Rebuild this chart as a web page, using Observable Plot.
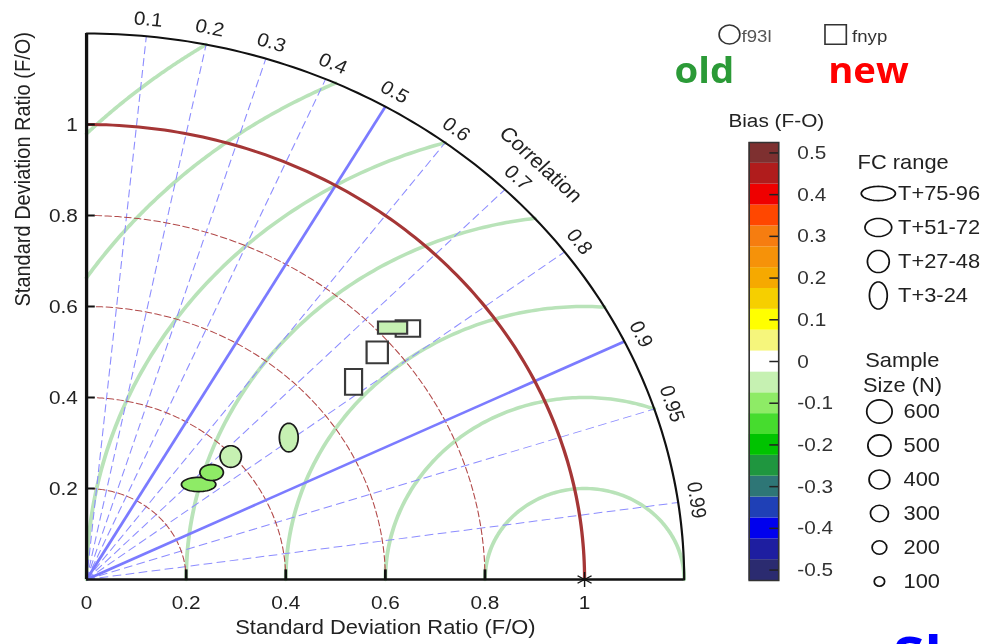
<!DOCTYPE html>
<html>
<head>
<meta charset="utf-8">
<script src="https://cdn.jsdelivr.net/npm/d3@7"></script>
<script src="https://cdn.jsdelivr.net/npm/@observablehq/plot@0.6"></script>
<style>
  html, body { margin: 0; padding: 0; background: #fff; }
  #page { width: 996px; height: 644px; overflow: hidden; position: relative; background: #fff; }
  #fig { position: absolute; left: 0; top: 0; width: 910px; height: 644px;
         transform: scaleX(1.0945); transform-origin: 0 0;
         font-family: "Liberation Sans", Arial, Helvetica, sans-serif; }
  #fig > * { position: absolute; }
  .tag { font-family: "Open Sans", sans-serif; font-weight: 700; line-height: 1; white-space: nowrap; }
</style>
</head>
<body>
<div id="page"><div id="fig"></div></div>
<script>
// ---------------------------------------------------------------------------
// Taylor diagram: f93l (old) versus fnyp (new), by forecast range
// ---------------------------------------------------------------------------

const fcRanges = ["T+3-24", "T+27-48", "T+51-72", "T+75-96"];

// f93l ("old"): standard deviation ratio, correlation, bias, sample size
const oldSdRatio = [0.512, 0.396, 0.344, 0.307];
const oldCorr    = [0.793, 0.731, 0.730, 0.733];
const oldBias    = [-0.05, -0.05, -0.10, -0.10];
const oldN       = [550, 470, 380, 500];

// fnyp ("new")
const newSdRatio = [0.690, 0.768, 0.849, 0.827];
const newCorr    = [0.777, 0.760, 0.760, 0.743];
const newBias    = [0, 0, 0, -0.05];
const newN       = [450, 470, 410, 360];

const seriesNames = ["f93l", "fnyp"];
const seriesTags  = ["old", "new"];

// grid lines and tick labels
const sdGrid       = [0.2, 0.4, 0.6, 0.8, 1.0];
const rmsGrid      = [0.2, 0.4, 0.6, 0.8, 1.0, 1.2, 1.4];
const corrGrid     = [0.1, 0.2, 0.3, 0.4, 0.5, 0.6, 0.7, 0.8, 0.9, 0.95, 0.99];
const corrLabels   = ["0.1", "0.2", "0.3", "0.4", "0.5", "0.6", "0.7", "0.8", "0.9", "0.95", "0.99"];
const corrMajor    = [0.5, 0.9];
const sdTicks      = [0, 0.2, 0.4, 0.6, 0.8, 1];
const sdTickLabels = ["0", "0.2", "0.4", "0.6", "0.8", "1"];

// bias colour bar (bin centres, low to high)
const biasLevels = [-0.5, -0.45, -0.4, -0.35, -0.3, -0.25, -0.2, -0.15, -0.1, -0.05, 0,
                    0.05, 0.1, 0.15, 0.2, 0.25, 0.3, 0.35, 0.4, 0.45, 0.5];
const biasColors = ["#2b2b70", "#1e1ea0", "#0000ee", "#1f40b6", "#2e7676", "#1f963f", "#00c300",
                    "#46dc2e", "#8eeb66", "#c6f1b2", "#ffffff", "#f6f67c", "#ffff00", "#f6cf00",
                    "#f6a900", "#f69209", "#f67d10", "#ff4700", "#ef0000", "#b01c1c", "#7e3030"];
const biasTicks      = [0.5, 0.4, 0.3, 0.2, 0.1, 0, -0.1, -0.2, -0.3, -0.4, -0.5];
const biasTickLabels = ["0.5", "0.4", "0.3", "0.2", "0.1", "0", "-0.1", "-0.2", "-0.3", "-0.4", "-0.5"];

const sampleSizes = [600, 500, 400, 300, 200, 100];

// ---------------------------------------------------------------------------
const RMAX = 1.2;
const FONT = "Liberation Sans, Arial, Helvetica, sans-serif";
const fig = document.getElementById("fig");
const place = (el, left, top) => { el.style.position = "absolute"; el.style.left = left + "px"; el.style.top = top + "px"; fig.appendChild(el); };

// marker shape for each forecast range (width / height)
const fcAspect = {"T+3-24": 0.6, "T+27-48": 0.9, "T+51-72": 1.35, "T+75-96": 2.2};
function oval(aspect) {
  const s = Math.sqrt(aspect);
  return {draw(ctx, size) {
    const r = Math.sqrt(size / Math.PI), rx = r * s, ry = r / s, n = 48;
    ctx.moveTo(rx, 0);
    for (let k = 1; k < n; ++k) {
      const t = 2 * Math.PI * k / n;
      ctx.lineTo(rx * Math.cos(t), ry * Math.sin(t));
    }
    ctx.closePath();
  }};
}
function box(aspect) {
  const s = Math.sqrt(aspect);
  return {draw(ctx, size) {
    const r = Math.sqrt(size / Math.PI), w = 2 * r * s, h = 2 * r / s;
    ctx.rect(-w / 2, -h / 2, w, h);
  }};
}

const thresholds = biasLevels.slice(1).map((v, i) => (v + biasLevels[i]) / 2);
const colorScale = {type: "threshold", domain: thresholds, range: biasColors, legend: false};
const sizeScale = {type: "sqrt", domain: [0, 600], range: [0, 11.6]};

// points in diagram coordinates
const toPoint = (sd, c, bias, n, fc) => ({fc, bias, n, x: sd * c, y: sd * Math.sqrt(1 - c * c)});
const oldPts = fcRanges.map((fc, i) => toPoint(oldSdRatio[i], oldCorr[i], oldBias[i], oldN[i], fc));
const newPts = fcRanges.map((fc, i) => toPoint(newSdRatio[i], newCorr[i], newBias[i], newN[i], fc));

// centred RMS difference arcs around (1, 0), kept inside the quarter disc
const rmsPts = rmsGrid.flatMap((R) => {
  const a0 = Math.acos(Math.min(1, (RMAX * RMAX - 1 - R * R) / (2 * R)));
  const a1 = Math.acos(Math.max(-1, -1 / R));
  return d3.range(121).map((k) => {
    const a = a0 + (a1 - a0) * k / 120;
    return {R, x: 1 + R * Math.cos(a), y: R * Math.sin(a)};
  });
});
// standard deviation arcs around the origin
const arc = (r) => d3.range(121).map((k) => {
  const t = Math.PI / 2 * k / 120;
  return {r, x: r * Math.cos(t), y: r * Math.sin(t)};
});
const sdPts = sdGrid.flatMap(arc);
const rim = arc(RMAX);

const deg = 180 / Math.PI;
const LAB = 1.237;
const ax = 8 / 455; // tick length in data units

// ---------------------------------------------------------------------------
// main diagram
const main = Plot.plot({
  width: 660, height: 644,
  marginLeft: 78.6, marginRight: 35.4, marginTop: 33, marginBottom: 65,
  x: {domain: [0, RMAX], axis: null},
  y: {domain: [0, RMAX], axis: null},
  r: sizeScale,
  color: colorScale,
  style: {background: "transparent", fontFamily: FONT, overflow: "visible"},
  marks: [
    Plot.line(rmsPts, {x: "x", y: "y", z: "R", stroke: "#b9e3b9", strokeWidth: 3.5}),
    Plot.link(corrGrid.filter((c) => !corrMajor.includes(c)), {
      x1: 0, y1: 0, x2: (c) => RMAX * c, y2: (c) => RMAX * Math.sqrt(1 - c * c),
      stroke: "#8d8dff", strokeWidth: 1, strokeDasharray: "8,4"
    }),
    Plot.line(sdPts.filter((d) => d.r !== 1), {x: "x", y: "y", z: "r", stroke: "#b24a4a", strokeWidth: 1, strokeDasharray: "6,3"}),
    Plot.link(corrMajor, {
      x1: 0, y1: 0, x2: (c) => RMAX * c, y2: (c) => RMAX * Math.sqrt(1 - c * c),
      stroke: "#7b7bff", strokeWidth: 2.6
    }),
    Plot.line(sdPts.filter((d) => d.r === 1), {x: "x", y: "y", stroke: "#a53636", strokeWidth: 3}),
    // frame
    Plot.line(rim, {x: "x", y: "y", stroke: "#111", strokeWidth: 2}),
    Plot.ruleX([0], {y1: 0, y2: RMAX, stroke: "#111", strokeWidth: 3}),
    Plot.ruleY([0], {x1: 0, x2: RMAX, stroke: "#111", strokeWidth: 2.5}),
    Plot.ruleX(sdTicks.slice(1, -1), {y1: 0, y2: ax * 1.2, stroke: "#111", strokeWidth: 2.5}),
    Plot.ruleY(sdTicks.slice(1), {x1: 0, x2: ax, stroke: "#111", strokeWidth: 2}),
    // reference point
    Plot.dot([1], {x: (d) => d, y: 0, symbol: "asterisk", r: 7, stroke: "#111", strokeWidth: 1.3}),
    // tick labels and titles
    Plot.text(sdTicks, {x: (d) => d, y: 0, text: (d, i) => sdTickLabels[i], dy: 23, fontSize: 19, fill: "#222"}),
    Plot.text(sdTicks.slice(1), {x: 0, y: (d) => d, text: (d, i) => sdTickLabels[i + 1], dx: -8, textAnchor: "end", fontSize: 19, fill: "#222"}),
    Plot.text(["Standard Deviation Ratio (F/O)"], {frameAnchor: "bottom", dy: 54, fontSize: 20, fill: "#222"}),
    Plot.text(["Standard Deviation Ratio (F/O)"], {frameAnchor: "left", dx: -58, rotate: -90, fontSize: 20, fill: "#222"}),
    Plot.text(corrGrid, {
      x: (c) => LAB * c, y: (c) => LAB * Math.sqrt(1 - c * c),
      text: (c, i) => corrLabels[i], rotate: (c) => 90 - Math.acos(c) * deg,
      fontSize: 19, fill: "#222"
    }),
    Plot.text(["Correlation"], {
      x: () => 1.29 * Math.SQRT1_2, y: () => 1.29 * Math.SQRT1_2, rotate: 45,
      fontSize: 20, fill: "#222"
    }),
    // old: ovals, new: boxes
    ...[3, 2, 1, 0].map((i) => Plot.dot([oldPts[i]], {
      x: "x", y: "y", r: "n", fill: "bias", stroke: "#1a1a1a", strokeWidth: 1.6,
      symbol: oval(fcAspect[fcRanges[i]])
    })),
    ...[0, 1, 2, 3].map((i) => Plot.dot([newPts[i]], {
      x: "x", y: "y", r: "n", fill: "bias", stroke: "#3a3a3a", strokeWidth: 2,
      symbol: box(fcAspect[fcRanges[i]])
    }))
  ]
});
place(main, 0, 0);

// ---------------------------------------------------------------------------
// series key (f93l / fnyp) with the old / new tags
const seriesKey = Plot.plot({
  width: 220, height: 100, margin: 0,
  x: {type: "point", domain: seriesNames, range: [26, 123], padding: 0, axis: null},
  style: {background: "transparent", fontFamily: FONT, overflow: "visible"},
  marks: [
    Plot.dot(seriesNames.slice(0, 1), {x: (d) => d, frameAnchor: "top", dy: 34, r: 9.5, stroke: "#333", strokeWidth: 1.5}),
    Plot.dot(seriesNames.slice(1), {x: (d) => d, frameAnchor: "top", dy: 34, r: 11, symbol: "square", stroke: "#333", strokeWidth: 1.5, fill: "none"}),
    Plot.text(seriesNames.slice(0, 1), {x: (d) => d, frameAnchor: "top", dy: 29, dx: 11, textAnchor: "start", text: (d) => d, fontSize: 17, fill: "#555"}),
    Plot.text(seriesNames.slice(1), {x: (d) => d, frameAnchor: "top", dy: 29, dx: 15, textAnchor: "start", text: (d) => d, fontSize: 17, fill: "#333"}),
    Plot.text(seriesNames.slice(0, 1), {x: (d) => d, frameAnchor: "top", dy: 82, dx: -23, lineAnchor: "bottom", text: () => seriesTags[0],
      fontSize: 35, fontWeight: 700, fontFamily: "Open Sans, sans-serif", fill: "#2b9a37"}),
    Plot.text(seriesNames.slice(1), {x: (d) => d, frameAnchor: "top", dy: 82, dx: 30, lineAnchor: "bottom", text: () => seriesTags[1],
      fontSize: 35, fontWeight: 700, fontFamily: "Open Sans, sans-serif", fill: "#ff0000"})
  ]
});
place(seriesKey, 640, 0);

// ---------------------------------------------------------------------------
// bias colour bar
const cbar = Plot.plot({
  width: 140, height: 500,
  marginLeft: 24, marginRight: 89, marginTop: 47, marginBottom: 15,
  x: {domain: [0, 1], axis: null},
  y: {domain: [-0.525, 0.525], axis: null},
  color: colorScale,
  style: {background: "transparent", fontFamily: FONT, overflow: "visible"},
  marks: [
    Plot.rect(biasLevels, {x1: 0, x2: 1, y1: (d) => d - 0.025, y2: (d) => d + 0.025, fill: (d) => d}),
    Plot.ruleY(biasTicks, {x1: 0.7, x2: 1, stroke: "#222", strokeWidth: 1.5}),
    Plot.frame({stroke: "#333", strokeWidth: 1.5}),
    Plot.text(biasTicks, {x: 1, y: (d) => d, text: (d, i) => biasTickLabels[i], dx: 17, textAnchor: "start", fontSize: 19, fill: "#333"}),
    Plot.text(["Bias (F-O)"], {frameAnchor: "top-left", dx: -19, dy: -29, textAnchor: "start", fontSize: 19, fill: "#222"})
  ]
});
place(cbar, 660, 95);

// ---------------------------------------------------------------------------
// forecast range key
const fcOrder = fcRanges.slice().reverse();
const fcKey = Plot.plot({
  width: 140, height: 190, margin: 0,
  y: {type: "point", domain: fcOrder, range: [62, 166], padding: 0, axis: null},
  style: {background: "transparent", fontFamily: FONT, overflow: "visible"},
  marks: [
    Plot.text(["FC range"], {frameAnchor: "top-left", dx: 13, dy: 24, textAnchor: "start", fontSize: 20, fill: "#222"}),
    ...fcOrder.map((fc) => Plot.dot([fc], {y: (d) => d, frameAnchor: "left", dx: 32, r: 10.5, symbol: oval(fcAspect[fc]), stroke: "#111", strokeWidth: 1.6, fill: "none"})),
    Plot.text(fcOrder, {y: (d) => d, frameAnchor: "left", dx: 50, textAnchor: "start", text: (d) => d, fontSize: 20, fill: "#222"})
  ]
});
place(fcKey, 770, 130);

// ---------------------------------------------------------------------------
// sample size key
const nKey = Plot.plot({
  width: 140, height: 280, margin: 0,
  y: {type: "point", domain: sampleSizes, range: [79, 252], padding: 0, axis: null},
  r: sizeScale,
  style: {background: "transparent", fontFamily: FONT, overflow: "visible"},
  marks: [
    Plot.text(["Sample"], {frameAnchor: "top-left", dx: 20, dy: 22, textAnchor: "start", fontSize: 20, fill: "#222"}),
    Plot.text(["Size (N)"], {frameAnchor: "top-left", dx: 18, dy: 47, textAnchor: "start", fontSize: 20, fill: "#222"}),
    Plot.dot(sampleSizes, {y: (d) => d, r: (d) => d, frameAnchor: "left", dx: 33, stroke: "#111", strokeWidth: 1.6, fill: "none"}),
    Plot.text(sampleSizes, {y: (d) => d, frameAnchor: "left", dx: 55, textAnchor: "start", text: (d) => String(d), fontSize: 20, fill: "#222"})
  ]
});
place(nKey, 770, 330);

// slide caption running off the bottom edge
const caption = document.createElement("div");
caption.className = "tag";
caption.textContent = "Sl";
caption.style.fontSize = "52px";
caption.style.color = "#0000ff";
place(caption, 816, 628);
</script>
</body>
</html>
